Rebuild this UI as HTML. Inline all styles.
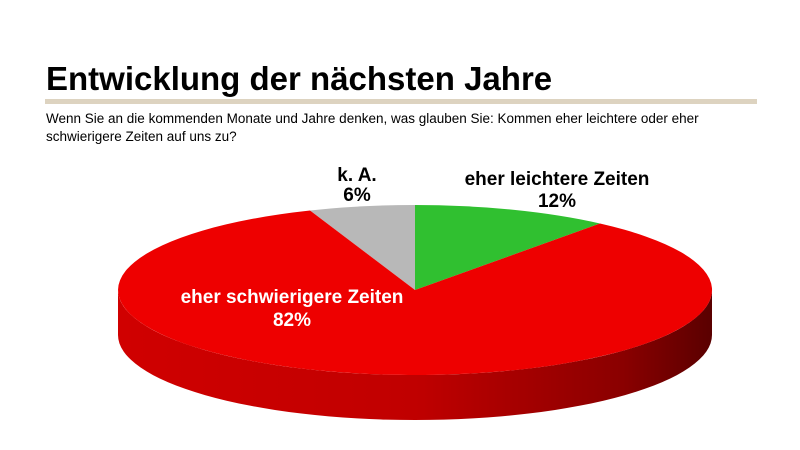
<!DOCTYPE html>
<html><head><meta charset="utf-8"><style>
body{margin:0;width:800px;height:450px;background:#fff;overflow:hidden;font-family:"Liberation Sans",sans-serif;position:relative}
.t{position:absolute;left:46px;top:60px;font-size:33px;font-weight:bold;color:#000}
.bar{position:absolute;left:45px;top:99px;width:712px;height:5px;background:#ddd3c0}
.s{position:absolute;left:46px;top:110px;font-size:13.5px;line-height:18px;color:#000}
</style></head><body>
<div class="t">Entwicklung der nächsten Jahre</div>
<div class="bar"></div>
<div class="s">Wenn Sie an die kommenden Monate und Jahre denken, was glauben Sie: Kommen eher leichtere oder eher<br>schwierigere Zeiten auf uns zu?</div>
<svg width="800" height="450" style="position:absolute;left:0;top:0">
<defs>
<linearGradient id="g" x1="0" x2="1" y1="0" y2="0">
<stop offset="0" stop-color="#d00000"/><stop offset="0.5" stop-color="#c00000"/><stop offset="0.85" stop-color="#8a0000"/><stop offset="1" stop-color="#5a0000"/>
</linearGradient>
</defs>
<path d="M118,290 A297,85 0 0 0 712,290 L712,335 A297,85 0 0 1 118,335 Z" fill="url(#g)"/>
<path d="M415,290 L415,205 A297,85 0 0 0 310,210.5 Z" fill="#b8b8b8"/>
<path d="M415,290 L415,205 A297,85 0 0 1 600,223.5 Z" fill="#30c030"/>
<path d="M415,290 L600,223.5 A297,85 0 1 1 310,210.5 Z" fill="#ee0000"/>
<g font-family="Liberation Sans,sans-serif" font-weight="bold" font-size="19" text-anchor="middle">
<text x="357" y="181" fill="#000">k. A.</text>
<text x="357" y="201" fill="#000">6%</text>
<text x="557" y="185" fill="#000">eher leichtere Zeiten</text>
<text x="557" y="207" fill="#000">12%</text>
<text x="292" y="303" fill="#fff">eher schwierigere Zeiten</text>
<text x="292" y="326" fill="#fff">82%</text>
</g>
</svg>
</body></html>
